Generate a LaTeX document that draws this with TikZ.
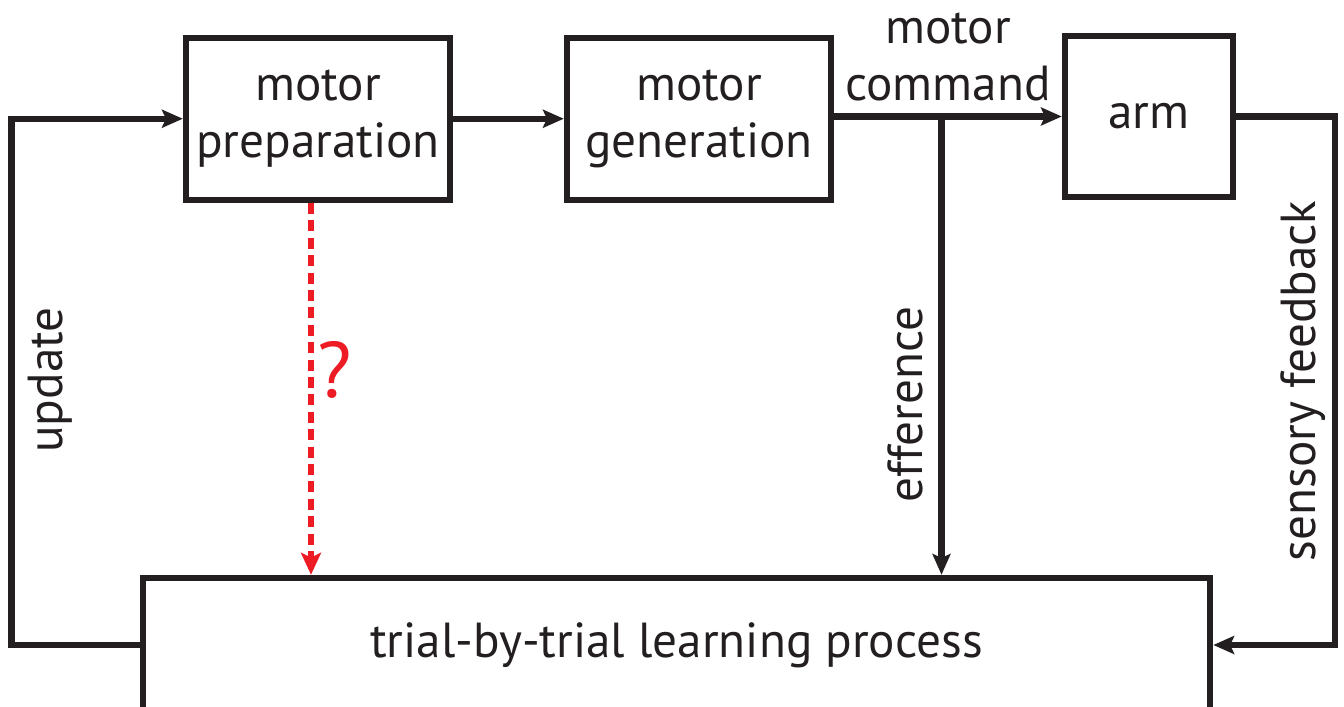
\documentclass[tikz,border=0pt]{standalone}
\usepackage{fontspec}
\setmainfont{PT Sans}
\usepackage{xcolor}
\usetikzlibrary{arrows.meta}

\definecolor{inkblack}{HTML}{231F20}
\definecolor{askred}{HTML}{ED1C24}

\begin{document}
\begin{tikzpicture}[x=0.025cm, y=-0.025cm,
		every node/.style={font=\fontsize{35}{40.5}\selectfont, text=inkblack},
		block/.style={draw=inkblack, line width=0.16cm, minimum width=6.6cm, minimum height=4.05cm, align=center},
		flow/.style={draw=inkblack, line width=0.16cm, -{Stealth[length=0.52cm, width=0.45cm, inset=0.1cm]}},
		query/.style={draw=askred, line width=0.15cm, dash pattern=on 0.275cm off 0.16cm, -{Stealth[length=0.55cm, width=0.5cm, inset=0.12cm]}},
		sidelabel/.style={rotate=90, anchor=base}]
	\useasboundingbox (0,0) rectangle (1344,707);

	\node[block] (prep) at (318,118.75) {motor\\preparation};
	\node[block] (gen) at (699,118.75) {motor\\generation};
	\node[block, minimum width=4.2cm, minimum height=4.025cm] (arm) at (1149,116.5) {arm};
	\node[block, minimum width=26.675cm, minimum height=3.35cm] (learn) at (676.5,645) {trial-by-trial learning process};

	\coordinate (split) at (941.5,116.5);
	\coordinate (qtop) at ([xshift=-0.175cm]prep.south);

	\draw[flow] (prep) -- (gen);
	\draw[flow] (gen.east |- arm.west) -- node[above, yshift=0.18cm, align=center] {motor\\command} (arm.west);
	\draw[flow] (split) -- (split |- learn.north);
	\draw[flow] (learn.west) -- ++(-128,0) |- (prep.west);
	\draw[flow] (arm.east) -- ++(99,0) |- (learn.east);
	\draw[query] (qtop) -- (qtop |- learn.north);

	\node[sidelabel] (updlabel) at (62,380) {update};
	\node[sidelabel] (efflabel) at (922,404.5) {efference};
	\node[sidelabel] (fblabel) at (1315,381) {sensory feedback};
	\node[text=askred, font=\fontsize{56}{56}\selectfont] (qmark) at (335,370) {?};
\end{tikzpicture}
\end{document}
